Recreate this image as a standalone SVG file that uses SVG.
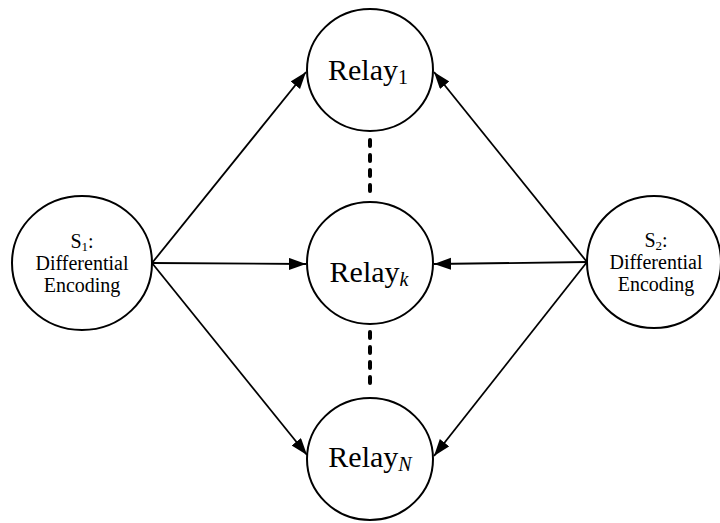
<svg xmlns="http://www.w3.org/2000/svg" width="720" height="523" viewBox="0 0 720 523">
<style>
.node{fill:#fff;stroke:#000;stroke-width:2}
.lbl{fill:#000;text-anchor:middle}
.edge{stroke:#000;stroke-width:1.8;fill:none;marker-end:url(#ah)}
.dots{stroke:#000;stroke-width:4;stroke-linecap:round;stroke-dasharray:6 9;fill:none}
</style>
<defs>
<marker id="ah" markerUnits="userSpaceOnUse" markerWidth="18" markerHeight="14" refX="17" refY="6" orient="auto">
<path d="M0,0 L17,6 L0,12 z" fill="#000"/>
</marker>
</defs>
<rect width="720" height="523" fill="#fff"/>
<g id="connectors">
<line class="edge" x1="152" y1="263" x2="306" y2="72"/>
<line class="edge" x1="152" y1="263" x2="306" y2="264"/>
<line class="edge" x1="152" y1="263" x2="307" y2="455"/>
<line class="edge" x1="587" y1="262" x2="434" y2="72"/>
<line class="edge" x1="587" y1="262" x2="434" y2="264"/>
<line class="edge" x1="587" y1="262" x2="434" y2="456"/>
<line class="dots" x1="370" y1="140" x2="370" y2="192"/>
<line class="dots" x1="370" y1="332" x2="370" y2="384"/>
</g>
<g id="relay1">
<ellipse class="node" cx="370" cy="70" rx="63" ry="61"/>
<text class="lbl" font-family="Liberation Serif, Times New Roman, serif" x="368" y="79.5" font-size="30">Relay<tspan font-size="20" dy="4">1</tspan></text>
</g>
<g id="relayk">
<ellipse class="node" cx="370" cy="263" rx="63" ry="61"/>
<text class="lbl" font-family="Liberation Serif, Times New Roman, serif" x="369" y="281.5" font-size="30">Relay<tspan font-size="20" dy="4" font-style="italic">k</tspan></text>
</g>
<g id="relayN">
<ellipse class="node" cx="370" cy="459" rx="63" ry="61"/>
<text class="lbl" font-family="Liberation Serif, Times New Roman, serif" x="370" y="467" font-size="30">Relay<tspan font-size="20" dy="4" font-style="italic">N</tspan></text>
</g>
<g id="s1">
<ellipse class="node" cx="82" cy="263" rx="70" ry="67"/>
<text class="lbl" font-family="Liberation Serif, Times New Roman, serif" x="82" y="248" font-size="20">S<tspan font-size="13" dy="3">1</tspan><tspan dy="-3">:</tspan></text>
<text class="lbl" font-family="Liberation Serif, Times New Roman, serif" x="82" y="270" font-size="20">Differential</text>
<text class="lbl" font-family="Liberation Serif, Times New Roman, serif" x="82" y="292" font-size="20">Encoding</text>
</g>
<g id="s2">
<ellipse class="node" cx="654" cy="262" rx="67" ry="66"/>
<text class="lbl" font-family="Liberation Serif, Times New Roman, serif" x="656" y="247" font-size="20">S<tspan font-size="13" dy="3">2</tspan><tspan dy="-3">:</tspan></text>
<text class="lbl" font-family="Liberation Serif, Times New Roman, serif" x="656" y="269" font-size="20">Differential</text>
<text class="lbl" font-family="Liberation Serif, Times New Roman, serif" x="656" y="291" font-size="20">Encoding</text>
</g>
</svg>
